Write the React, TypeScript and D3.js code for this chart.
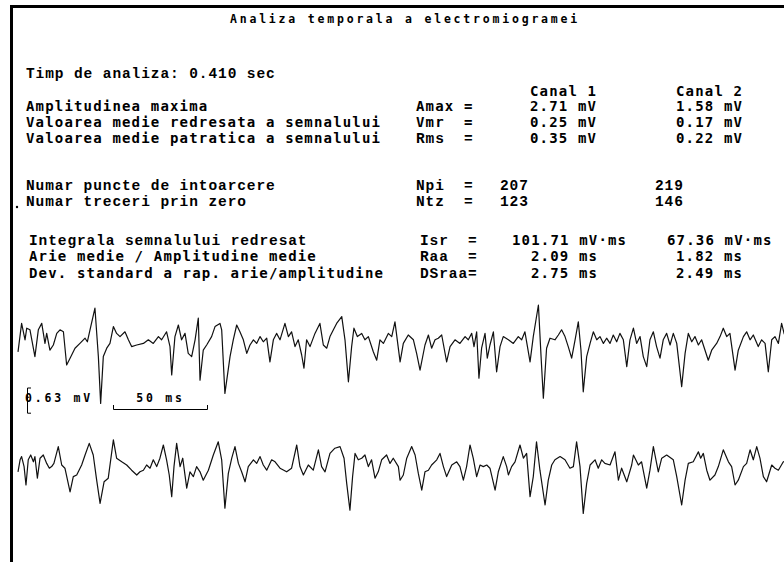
import React from "react";
import * as d3 from "d3";

const WIDTH = 784;
const HEIGHT = 562;

const title = "Analiza temporala a electromiogramei";
const analysisTime = "Timp de analiza: 0.410 sec";
const channelNames = ["Canal 1", "Canal 2"];
const paramLabels = [
  "Amplitudinea maxima",
  "Valoarea medie redresata a semnalului",
  "Valoarea medie patratica a semnalului",
  "Numar puncte de intoarcere",
  "Numar treceri prin zero",
  "Integrala semnalului redresat",
  "Arie medie / Amplitudine medie",
  "Dev. standard a rap. arie/amplitudine",
];
const paramSymbols = ["Amax =", "Vmr  =", "Rms  =", "Npi  =", "Ntz  =", "Isr  =", "Raa  =", "DSraa="];
const canal1Values = ["2.71 mV", "0.25 mV", "0.35 mV", "207", "123", "101.71 mV·ms", "2.09 ms", "2.75 ms"];
const canal2Values = ["1.58 mV", "0.17 mV", "0.22 mV", "219", "146", "67.36 mV·ms", "1.82 ms", "2.49 ms"];

const durationMs = 410;
const amplitudeBarMv = 0.63;
const timeBarMs = 50;
const amplitudeBarLabel = "0.63 mV";
const timeBarLabel = "50 ms";

// [time ms, amplitude mV] at the turning points of each channel
const canal1Trace: [number, number][] = [
  [0, -0.17], [1.9, 0.54], [3.7, 0.13], [4.6, 0.42], [6.3, 0.38], [8.9, -0.29], [10.7, 0.38], [12.5, 0.54], [14.2, 0.04], [15.1, 0.29],
  [16.8, -0.13], [18.6, 0], [20.4, 0.29], [22.1, 0.38], [23.9, 0.33], [25.6, -0.5], [27.4, -0.33], [30.0, -0.08], [32.6, 0.04], [35.3, 0.17],
  [36.5, 0.08], [37.9, 0.38], [40.5, 0.92], [42.3, -0.29], [43.5, -1.46], [44.9, -0.29], [46.7, -0.08], [48.4, 0.04], [50.2, 0.46], [51.9, 0.29],
  [53.7, 0.21], [56.3, 0.33], [58.1, 0.13], [59.8, -0.04], [62.5, 0], [66.0, 0.04], [68.6, 0.13], [71.2, 0.04], [73.9, 0.21], [75.6, 0.13],
  [78.2, 0.33], [80.0, -0.04], [80.9, -0.75], [82.6, 0.21], [84.4, 0.5], [86.1, 0.13], [87.9, 0.29], [89.6, -0.21], [91.4, -0.29], [93.2, 0.13],
  [94.9, 0.67], [95.8, -0.88], [97.5, -0.13], [99.3, 0], [101.9, 0.21], [103.7, 0.46], [106.3, 0.54], [107.2, 0.38], [108.9, -1.21], [111.6, -0.29],
  [113.3, 0.13], [115.1, 0.5], [116.8, 0.33], [118.6, 0.13], [120.4, -0.21], [122.1, 0], [123.9, 0.13], [125.6, 0.04], [127.4, 0.21], [129.1, 0.08],
  [130.9, 0.17], [132.6, -0.42], [134.4, 0.13], [136.1, 0.29], [137.9, 0.13], [140.5, 0.54], [142.3, 0.21], [144.0, 0.33], [145.8, -0.04], [147.5, 0.13],
  [149.3, -0.25], [150.5, -0.58], [151.9, 0.13], [153.7, -0.04], [156.3, 0.29], [158.9, 0.54], [160.7, 0], [162.5, -0.08], [164.2, 0.21], [166.0, 0.38],
  [167.7, 0.54], [170.4, 0.71], [172.1, 0.13], [173.9, -0.92], [175.6, -0.04], [176.8, 0.42], [178.6, 0.21], [180.9, 0.29], [182.6, 0.13], [184.4, 0.21],
  [187.0, -0.17], [188.8, -0.38], [190.5, 0.13], [192.3, 0.04], [194.9, 0.29], [196.7, 0.21], [198.4, 0.58],
  [201.1, -0.42], [202.8, 0.04], [205.4, 0.25], [208.1, 0.13], [209.8, -0.21], [211.6, -0.63], [214.2, 0], [216.0, 0.25], [217.7, -0.08], [219.5, 0.13],
  [221.2, 0.17], [223.0, 0.25], [225.6, -0.42], [227.4, -0.04], [230.0, 0.13], [232.6, 0.04], [235.3, 0.21], [237.0, 0.13], [238.8, 0.29], [240.0, -0.04],
  [241.4, 0.33], [242.6, -0.83], [244.0, -0.08], [245.8, 0.29], [247.0, -0.33], [248.4, 0], [250.2, 0.33], [251.9, -0.67], [253.7, -0.04], [255.4, 0.21],
  [258.1, 0.13], [260.7, 0.04], [263.3, 0.21], [265.1, 0.13], [266.8, 0.33], [269.5, -0.42], [271.2, 0.21], [273.9, 1.0], [275.3, -0.29], [276.5, -1.33],
  [278.2, -0.08], [280.0, 0.17], [282.6, 0.13], [284.4, 0.25], [286.1, 0.38], [287.9, 0.21], [289.6, -0.04], [291.4, -0.33], [293.2, 0.13], [294.9, 0.58],
  [296.3, -0.13], [297.5, -1.17], [299.3, -0.29], [301.1, 0.04], [302.8, 0.33], [304.6, 0.13], [306.3, 0.21], [308.1, 0.04], [309.8, 0.17], [311.6, 0.04],
  [313.3, 0.25], [315.1, 0.08], [316.8, 0.29], [318.6, 0.13], [320.4, -0.54], [322.1, 0.13], [323.9, 0.42], [325.6, 0.04], [327.4, 0.21], [329.1, -0.29],
  [330.9, -0.54], [332.6, 0.13], [334.4, 0.33], [336.1, -0.04], [337.9, -0.33], [339.6, 0.13], [341.4, 0.29], [343.2, 0], [344.9, 0.29], [346.7, 0.04],
  [349.3, -1.04], [351.1, -0.21], [352.8, 0.29], [354.6, 0.08], [356.3, 0.21], [358.1, 0], [359.8, 0.13], [363.3, -0.38], [365.1, -0.13], [367.7, 0.04],
  [369.5, 0.21], [371.2, 0.42], [373.0, 0.21], [374.7, 0.29], [377.4, -0.63], [379.1, -0.13], [381.8, 0.21], [383.5, 0.33], [385.3, 0.13], [387.0, 0.25],
  [389.6, -0.04], [391.4, 0.13], [393.2, 0.04], [394.9, -0.67], [396.7, 0.13], [398.4, 0.21], [400.2, 0.04], [401.9, 0.54], [403.2, 0.29], [406.0, 0],
  [410.0, 0.1],
];

const canal2Trace: [number, number][] = [
  [0, -0.17], [1.1, 0.13], [1.9, 0.21], [3.2, -0.04], [4.2, -0.5], [5.4, 0.13], [6.7, 0.25], [8.1, 0.08], [8.9, 0.21], [10.2, -0.33],
  [11.6, 0.17], [13.3, 0.25], [15.1, 0.04], [16.5, -0.08], [17.7, -0.04], [18.9, 0.04], [21.2, 0.46], [23.0, 0], [24.7, -0.08], [27.4, -0.67],
  [29.1, -0.29], [30.9, -0.25], [33.5, 0], [35.3, 0.25], [37.5, 0.54], [39.6, 0.25], [41.4, -0.38], [43.2, -0.96], [45.3, -0.42], [47.5, -0.33],
  [50.2, 0.63], [51.9, 0.17], [54.6, 0.08], [57.2, 0], [59.8, -0.13], [62.5, -0.25], [64.2, -0.17], [66.0, -0.13], [67.7, 0], [69.5, -0.08],
  [71.2, 0.13], [73.0, -0.04], [74.7, 0.17], [76.5, 0.5], [78.2, 0.13], [79.6, -0.25], [80.9, -0.79], [82.1, -0.04], [83.5, 0.54], [85.3, -0.04],
  [86.7, 0.17], [88.8, -0.58], [90.5, -0.17], [92.3, -0.29], [94.0, -0.04], [95.8, -0.17], [97.5, -0.38], [100.2, -0.13], [102.8, 0.25], [105.4, 0.58],
  [107.2, 0.13], [108.9, -1.08], [110.7, -0.21], [112.5, 0.17], [114.2, 0.46], [116.0, 0.04], [117.7, -0.17], [119.5, -0.42], [121.2, -0.04], [123.9, 0.13],
  [125.6, 0.04], [127.4, 0.21], [129.1, 0], [130.9, -0.13], [133.5, 0.13], [135.3, 0.08], [137.9, -0.08], [141.4, -0.17], [144.0, -0.08], [146.7, 0.5],
  [148.4, -0.04], [150.2, -0.25], [152.8, 0], [155.4, -0.13], [158.1, 0.38], [159.8, -0.04], [161.6, -0.17], [164.2, 0.29], [166.8, 0.42], [169.5, 0.46],
  [171.6, 0.17], [173.0, -0.46], [174.7, -1.13], [176.1, -0.29], [177.4, 0.29], [179.1, 0.13], [180.9, 0.17], [182.6, 0.25], [184.4, -0.04], [186.1, 0.13],
  [187.9, -0.33], [189.6, -0.17], [191.4, 0.13], [194.0, 0.25], [195.8, 0.04], [197.5, 0.17], [200.2, -0.04],
  [201.1, -0.38], [202.8, -0.25], [204.6, 0.17], [207.2, 0.46], [209.0, 0.25], [210.7, -0.21], [212.5, -0.63], [214.2, -0.17], [216.0, -0.13], [217.7, 0],
  [220.4, 0.13], [222.1, 0.29], [223.9, -0.04], [225.6, -0.29], [228.3, 0], [230.9, 0.08], [232.6, -0.04], [234.4, -0.38], [236.1, -0.04], [237.9, 0.5],
  [239.6, 0.17], [241.4, -0.29], [243.2, 0], [244.9, -0.04], [246.7, 0], [248.4, -0.08], [251.1, -0.63], [252.8, -0.17], [255.4, 0.21], [257.2, -0.04],
  [258.1, -0.25], [259.8, -0.04], [261.6, 0.08], [264.2, 0.5], [266.0, 0.17], [267.7, 0.29], [269.5, -0.79], [271.2, -0.29], [272.9, 0.58], [274.7, -0.13],
  [277.4, -1.0], [279.1, -0.38], [280.9, 0], [282.6, 0.13], [285.3, 0.21], [287.9, 0.13], [290.5, -0.08], [292.3, -0.04], [294.0, 0.58], [295.8, -0.04],
  [297.5, -1.21], [299.3, -0.46], [301.1, 0], [303.7, 0.13], [305.4, -0.08], [307.2, 0.13], [308.9, 0.04], [311.6, 0], [314.2, 0.33], [316.0, -0.38],
  [317.7, -0.08], [320.4, -0.42], [323.0, 0], [323.9, 0.25], [326.5, 0], [328.2, 0.08], [330.9, -0.58], [332.6, -0.13], [334.4, 0.46], [337.0, -0.17],
  [338.8, 0.17], [341.4, 0.25], [344.9, 0.13], [346.7, -0.29], [349.3, -1.0], [351.1, -0.38], [352.8, 0.04], [355.4, 0.08], [358.1, 0.33], [359.3, 0.17],
  [360.7, 0.29], [362.5, -0.13], [364.2, -0.38], [366.8, -0.25], [368.6, -0.04], [371.2, 0.38], [373.9, 0.08], [375.6, -0.04], [377.4, -0.5], [379.1, -0.38],
  [381.8, -0.04], [383.5, 0.04], [385.3, 0.38], [387.0, 0.13], [388.8, 0.46], [390.5, 0.17], [392.3, -0.29], [394.0, -0.42], [396.7, 0], [398.4, -0.08],
  [400.2, -0.13], [402.8, 0.08], [406.0, 0.1], [410.0, 0],
];

const SANS_MONO = "'DejaVu Sans Mono', monospace";
const SERIF_MONO = "'Liberation Mono', 'Courier New', monospace";

// Text grid: every main line advances about 9.6 px per character
const mainSans = { fontFamily: SANS_MONO, fontSize: 14, fontWeight: 700, letterSpacing: 1.17, whiteSpace: "pre" as const };
const mainSerif = { fontFamily: SERIF_MONO, fontSize: 14.5, fontWeight: 700, letterSpacing: 0.9, whiteSpace: "pre" as const };
const smallFont = { fontFamily: SANS_MONO, fontSize: 11.5, fontWeight: 700, letterSpacing: 2.8, whiteSpace: "pre" as const };

export default function App() {
  const x = d3.scaleLinear().domain([0, durationMs]).range([18, 797]);
  const pxPerMv = 40;
  const y1 = d3.scaleLinear().domain([-1, 1]).range([345 + pxPerMv, 345 - pxPerMv]);
  const y2 = d3.scaleLinear().domain([-1, 1]).range([465 + pxPerMv, 465 - pxPerMv]);

  const line1 = d3.line<[number, number]>().x((d) => x(d[0])).y((d) => y1(d[1]));
  const line2 = d3.line<[number, number]>().x((d) => x(d[0])).y((d) => y2(d[1]));

  const rowY = [111, 127, 143, 190, 206, 245, 261, 278];
  const labelX = [26, 26, 26, 26, 26, 29, 29, 29];
  const symbolX = [416, 416, 416, 416, 416, 420, 420, 420];
  const c1X = [530, 530, 530, 500, 500, 512, 531, 531];
  const c2X = [676, 676, 676, 655, 655, 667, 676, 676];
  const labelSerif = [false, false, false, true, true, true, false, false];
  const symbolSerif = [false, false, true, true, true, true, true, true];
  const valueSerif = [false, false, false, true, true, false, false, false];

  // scale bars
  const barX0 = x(0) + 95;
  const barX1 = barX0 + (x(timeBarMs) - x(0));
  const barY = 409;
  const ampTop = 388;
  const ampBottom = ampTop + (y1(0) - y1(amplitudeBarMv));

  return (
    <svg
      width={WIDTH}
      height={HEIGHT}
      style={{ position: "absolute", left: 0, top: 0, background: "#fff", display: "block" }}
    >
      <rect x={0} y={0} width={WIDTH} height={HEIGHT} fill="#fff" />
      <path d={`M11.5,${HEIGHT + 5} V6.5 H${WIDTH + 5}`} fill="none" stroke="#000" strokeWidth={3} />

      <text x={405} y={23} textAnchor="middle" style={smallFont} fill="#000">{title}</text>

      <text x={26} y={78} style={mainSerif} fill="#000">{analysisTime}</text>

      <text x={530} y={96} style={mainSans} fill="#000">{channelNames[0]}</text>
      <text x={676} y={96} style={mainSans} fill="#000">{channelNames[1]}</text>

      {paramLabels.map((lab, i) => (
        <g key={lab}>
          <text x={labelX[i]} y={rowY[i]} style={labelSerif[i] ? mainSerif : mainSans} fill="#000">{lab}</text>
          <text x={symbolX[i]} y={rowY[i]} style={symbolSerif[i] ? mainSerif : mainSans} fill="#000">{paramSymbols[i]}</text>
          <text x={c1X[i]} y={rowY[i]} style={valueSerif[i] ? mainSerif : mainSans} fill="#000">{canal1Values[i]}</text>
          <text x={c2X[i]} y={rowY[i]} style={valueSerif[i] ? mainSerif : mainSans} fill="#000">{canal2Values[i]}</text>
        </g>
      ))}

      <circle cx={17} cy={207} r={1.2} fill="#000" />

      <path d={line1(canal1Trace) ?? ""} fill="none" stroke="#111" strokeWidth={1.2} strokeLinejoin="round" />
      <path d={line2(canal2Trace) ?? ""} fill="none" stroke="#111" strokeWidth={1.2} strokeLinejoin="round" />

      {/* amplitude bracket */}
      <path
        d={`M31,${ampTop} H27.5 V${ampBottom} H31`}
        fill="none"
        stroke="#000"
        strokeWidth={1}
      />
      <text x={25} y={402} style={smallFont} fill="#000">{amplitudeBarLabel}</text>

      {/* time bar */}
      <path
        d={`M${barX0 + 0.5},${barY - 4} V${barY + 0.5} H${barX1 - 0.5} V${barY - 4}`}
        fill="none"
        stroke="#000"
        strokeWidth={1}
      />
      <text x={(barX0 + barX1) / 2} y={402} textAnchor="middle" style={smallFont} fill="#000">{timeBarLabel}</text>
    </svg>
  );
}
